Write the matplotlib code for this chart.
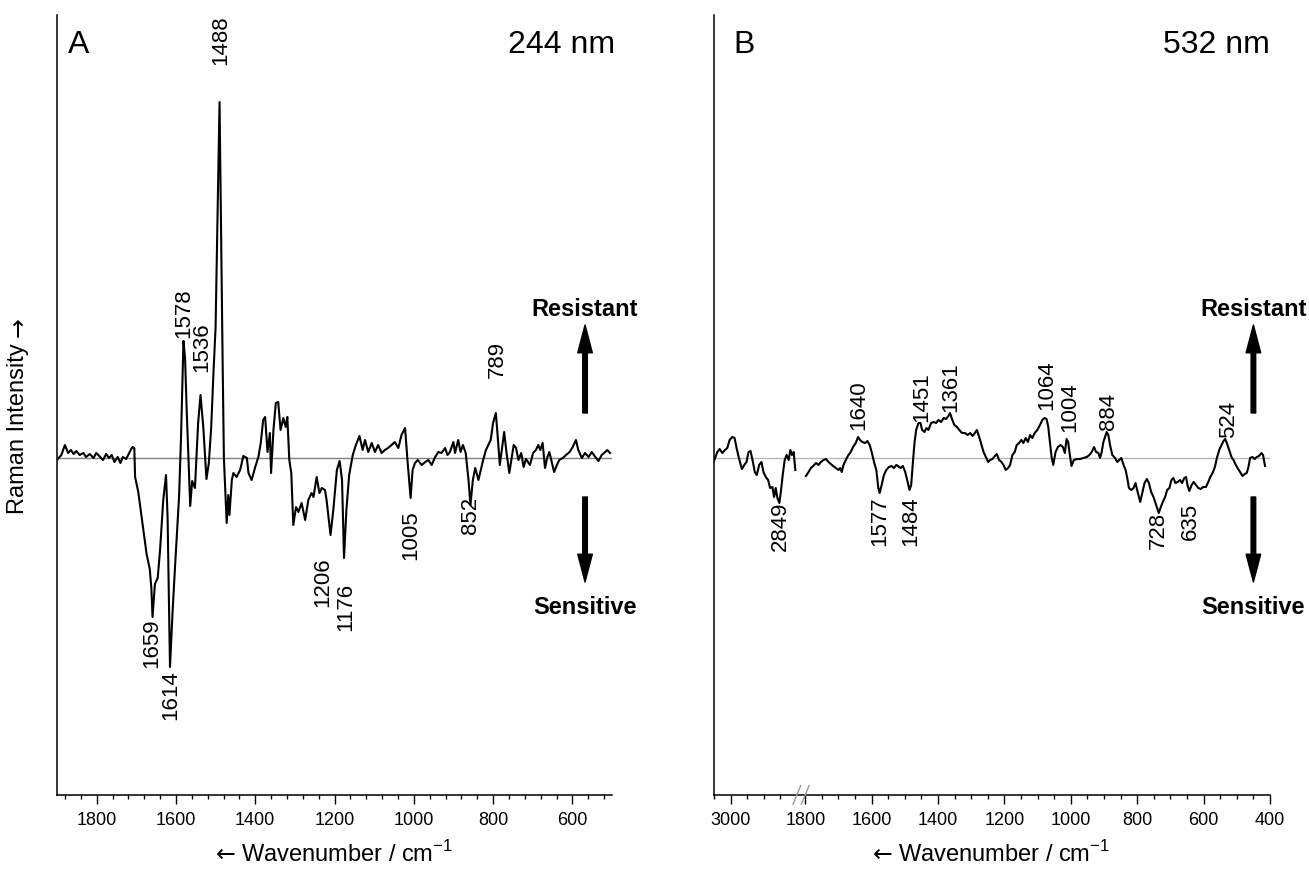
import numpy as np
import matplotlib
matplotlib.use("Agg")
import matplotlib.pyplot as plt
from matplotlib.ticker import MultipleLocator, FixedLocator, NullFormatter, FixedFormatter

plt.rcParams['font.family'] = ['Liberation Sans', 'DejaVu Sans']
plt.rcParams['mathtext.fontset'] = 'custom'
plt.rcParams['mathtext.rm'] = 'Liberation Sans'

# ---------------- Panel A (244 nm) difference spectrum ----------------
a_wn = [1898, 1889, 1880, 1872, 1865, 1858, 1851, 1843, 1833, 1827, 1817, 1808, 1801, 1791,
        1784, 1776, 1769, 1762, 1755, 1747, 1740, 1734, 1726, 1719, 1713, 1709, 1705, 1703,
        1695, 1683, 1674, 1666, 1662, 1659, 1653, 1646, 1640, 1632, 1625, 1621, 1615, 1608,
        1602, 1592, 1587, 1581, 1577, 1573, 1564, 1559, 1552, 1544, 1538, 1531, 1523, 1517,
        1511, 1505, 1500, 1495, 1490, 1486, 1482, 1479, 1472, 1468, 1465, 1459, 1455, 1447,
        1438, 1430, 1421, 1417, 1409, 1400, 1392, 1386, 1380, 1375, 1369, 1363, 1360, 1354,
        1348, 1342, 1336, 1329, 1323, 1319, 1314, 1309, 1304, 1297, 1291, 1283, 1274, 1266,
        1258, 1253, 1245, 1238, 1232, 1224, 1220, 1210, 1203, 1194, 1187, 1181, 1176, 1170,
        1163, 1154, 1146, 1137, 1129, 1123, 1115, 1106, 1098, 1090, 1081, 1073, 1065, 1056,
        1048, 1039, 1031, 1022, 1016, 1008, 1003, 997, 990, 980, 971, 963, 955, 946, 938,
        930, 921, 915, 909, 900, 896, 888, 882, 876, 869, 862, 857, 851, 845, 837, 831, 825,
        818, 812, 806, 800, 793, 789, 783, 777, 772, 766, 759, 754, 748, 742, 736, 729, 723,
        717, 707, 699, 692, 686, 681, 675, 669, 663, 658, 652, 646, 639, 633, 624, 616, 607,
        599, 591, 585, 576, 568, 559, 551, 542, 534, 526, 517, 512, 505]
a_int = [-0.01, 0.03, 0.13, 0.05, 0.08, 0.04, 0.07, 0.03, 0.05, 0.01, 0.04, 0.00, 0.05, 0.01,
         -0.02, 0.04, 0.00, 0.03, -0.04, 0.01, -0.05, 0.01, -0.01, 0.04, 0.09, 0.11, 0.10, -0.19,
         -0.34, -0.69, -0.96, -1.11, -1.30, -1.59, -1.26, -1.20, -0.92, -0.42, -0.17, -0.60, -2.09, -1.50,
         -1.07, -0.38, 0.23, 1.17, 1.00, 0.50, -0.48, -0.23, -0.30, 0.35, 0.63, 0.31, -0.21, -0.05,
         0.31, 0.88, 1.30, 2.40, 3.56, 2.20, 0.90, 0.00, -0.65, -0.37, -0.57, -0.22, -0.15, -0.19,
         -0.12, 0.02, 0.00, -0.15, -0.22, -0.09, 0.01, 0.15, 0.38, 0.41, 0.06, 0.25, -0.15, 0.28,
         0.55, 0.56, 0.28, 0.40, 0.31, 0.41, -0.02, -0.15, -0.67, -0.49, -0.54, -0.45, -0.62, -0.42,
         -0.35, -0.39, -0.19, -0.35, -0.30, -0.32, -0.42, -0.77, -0.52, -0.12, -0.03, -0.22, -1.00, -0.52,
         -0.17, 0.03, 0.13, 0.22, 0.08, 0.18, 0.06, 0.15, 0.06, 0.13, 0.05, 0.08, 0.10, 0.13,
         0.16, 0.10, 0.23, 0.30, -0.02, -0.40, -0.12, -0.05, -0.02, -0.07, -0.04, -0.02, -0.07, 0.01, 0.06,
         0.05, 0.10, 0.03, 0.06, 0.16, 0.05, 0.18, 0.06, 0.13, 0.05, -0.22, -0.47, -0.22, -0.10, -0.22, -0.12, -0.02,
         0.08, 0.13, 0.18, 0.35, 0.45, 0.25, -0.07, 0.11, 0.26, 0.05, -0.15, -0.02, 0.13, 0.10, -0.02, 0.05, -0.09,
         -0.01, -0.07, 0.05, 0.08, 0.13, 0.08, 0.15, -0.10, 0.01, 0.06, -0.04, -0.14, -0.07, -0.02, 0.00, 0.03, 0.06,
         0.11, 0.18, 0.08, 0.00, 0.05, 0.01, 0.06, 0.01, -0.03, 0.03, 0.06, 0.08, 0.05]

# ---------------- Panel B (532 nm) difference spectrum ----------------
b_hi_wn = [3050, 3040, 3033, 3025, 3017, 3010, 3003, 2995, 2988, 2982, 2975, 2966, 2959, 2952,
           2946, 2940, 2934, 2927, 2921, 2914, 2907, 2901, 2894, 2887, 2881, 2874, 2869, 2864,
           2859, 2853, 2848, 2843, 2837, 2831, 2825, 2820, 2815, 2810, 2805]
b_hi_int = [-0.03, 0.06, 0.09, 0.05, 0.08, 0.10, 0.18, 0.21, 0.20, 0.10, 0.00, -0.11, -0.07, -0.04,
            0.06, 0.07, -0.02, -0.14, -0.17, -0.07, -0.04, -0.14, -0.19, -0.22, -0.30, -0.29, -0.39, -0.30,
            -0.40, -0.45, -0.32, -0.17, -0.02, 0.03, -0.02, 0.08, 0.03, 0.06, -0.12]

b_lo_wn = [1798, 1790, 1783, 1776, 1768, 1760, 1753, 1745, 1738, 1730, 1723, 1716, 1708, 1700,
           1695, 1690, 1685, 1678, 1670, 1663, 1656, 1648, 1641, 1635, 1628, 1620, 1613, 1606,
           1600, 1593, 1586, 1580, 1576, 1570, 1563, 1556, 1548, 1540, 1533, 1526, 1521, 1513,
           1506, 1499, 1493, 1486, 1481, 1476, 1471, 1466, 1459, 1453, 1448, 1441, 1435, 1429,
           1421, 1413, 1406, 1399, 1391, 1383, 1376, 1369, 1364, 1358, 1351, 1343, 1336, 1328,
           1319, 1311, 1303, 1296, 1289, 1283, 1276, 1269, 1263, 1256, 1249, 1243, 1236, 1229,
           1223, 1216, 1209, 1203, 1196, 1189, 1183, 1176, 1169, 1163, 1156, 1149, 1143, 1136,
           1129, 1123, 1116, 1109, 1101, 1093, 1086, 1079, 1073, 1068, 1063, 1058, 1053, 1046,
           1039, 1031, 1024, 1018, 1013, 1008, 1003, 998, 991, 981, 972, 962, 952, 944, 937,
           930, 924, 917, 912, 907, 902, 897, 892, 887, 882, 875, 867, 860, 854, 848, 841, 835,
           830, 825, 818, 811, 805, 798, 791, 785, 778, 771, 765, 758, 751, 745, 740, 735, 730,
           723, 716, 710, 703, 697, 691, 685, 678, 671, 665, 658, 653, 648, 643, 636, 630, 623,
           616, 609, 601, 593, 586, 580, 573, 566, 560, 553, 546, 540, 535, 530, 523, 516, 510,
           503, 496, 490, 483, 476, 470, 465, 460, 453, 446, 440, 433, 426, 421, 415]
b_lo_int = [-0.18, -0.14, -0.10, -0.08, -0.05, -0.07, -0.04, -0.02, -0.01, -0.04, -0.06, -0.08, -0.10, -0.12,
            -0.10, -0.14, -0.07, -0.02, 0.03, 0.06, 0.11, 0.15, 0.21, 0.18, 0.16, 0.15, 0.17, 0.13,
            0.06, -0.04, -0.12, -0.30, -0.35, -0.27, -0.17, -0.12, -0.09, -0.08, -0.10, -0.07, -0.08, -0.10,
            -0.08, -0.14, -0.22, -0.32, -0.27, -0.05, 0.15, 0.28, 0.35, 0.35, 0.28, 0.26, 0.30, 0.28,
            0.35, 0.36, 0.35, 0.38, 0.36, 0.40, 0.39, 0.42, 0.45, 0.39, 0.33, 0.31, 0.28, 0.25,
            0.25, 0.23, 0.25, 0.22, 0.25, 0.28, 0.21, 0.13, 0.06, 0.01, -0.04, -0.02, -0.01, 0.02,
            0.04, -0.02, -0.04, -0.07, -0.12, -0.10, -0.07, 0.03, 0.06, 0.13, 0.15, 0.18, 0.15, 0.20,
            0.16, 0.23, 0.20, 0.25, 0.28, 0.33, 0.38, 0.40, 0.39, 0.31, 0.16, 0.01, -0.07, 0.06,
            0.11, 0.13, 0.11, 0.05, 0.19, 0.16, 0.03, -0.08, -0.02, -0.01, -0.01, 0.00, 0.01, 0.03, 0.06,
            0.11, 0.06, 0.05, 0.00, 0.06, 0.16, 0.21, 0.26, 0.23, 0.13, 0.03, 0.00, -0.04, -0.02, 0.00, -0.07, -0.12,
            -0.20, -0.30, -0.32, -0.30, -0.25, -0.35, -0.44, -0.35, -0.25, -0.21, -0.25, -0.34, -0.39, -0.45, -0.50, -0.55, -0.50,
            -0.44, -0.39, -0.32, -0.30, -0.22, -0.20, -0.25, -0.24, -0.22, -0.25, -0.20, -0.19, -0.28, -0.33, -0.27, -0.24, -0.27,
            -0.30, -0.31, -0.29, -0.29, -0.24, -0.19, -0.15, -0.09, 0.00, 0.08, 0.13, 0.17, 0.19, 0.15, 0.08, 0.01, -0.02,
            -0.07, -0.11, -0.14, -0.18, -0.16, -0.15, -0.09, 0.00, 0.01, -0.01, 0.01, 0.02, 0.05, 0.03, -0.08]

# Peak labels: (text, x position, y anchor, direction)
a_labels = [("1488", 1488, 3.93, 'up'), ("1578", 1580, 1.20, 'up'), ("1536", 1536, 0.86, 'up'),
            ("789", 789, 0.80, 'up'), ("1659", 1661, -1.60, 'down'), ("1614", 1612, -2.12, 'down'),
            ("1206", 1229, -0.99, 'down'), ("1176", 1172, -1.25, 'down'), ("1005", 1008, -0.52, 'down'),
            ("852", 858, -0.39, 'down')]
b_labels = [("2849", 2849, -0.44, 'down'), ("1640", 1640, 0.28, 'up'), ("1577", 1575, -0.38, 'down'),
            ("1484", 1481, -0.38, 'down'), ("1451", 1448, 0.36, 'up'), ("1361", 1362, 0.46, 'up'),
            ("1064", 1073, 0.48, 'up'), ("1004", 1003, 0.26, 'up'), ("884", 888, 0.28, 'up'),
            ("524", 525, 0.20, 'up'), ("728", 737, -0.54, 'down'), ("635", 640, -0.45, 'down')]

a_ticks = [1800, 1600, 1400, 1200, 1000, 800, 600]
b_ticks = [3000, 1800, 1600, 1400, 1200, 1000, 800, 600, 400]

W, H = 1309, 875
fig = plt.figure(figsize=(W / 100, H / 100), dpi=100)

top_px, bot_px = 15, 795
ylim = ((458 - bot_px) / 100, (458 - top_px) / 100)

axA = fig.add_axes([57 / W, 1 - bot_px / H, 555 / W, (bot_px - top_px) / H])
axB = fig.add_axes([714 / W, 1 - bot_px / H, 556 / W, (bot_px - top_px) / H])

LW = 1.5
LBL_FS = 16
TITLE_FS = 23
AX_FS = 17


def style(ax):
    for s in ['top', 'right']:
        ax.spines[s].set_visible(False)
    for s in ['left', 'bottom']:
        ax.spines[s].set_linewidth(1.1)
    ax.set_yticks([])
    ax.tick_params(axis='x', which='major', direction='out', length=6.5, width=1.0,
                   labelsize=13, pad=6)
    ax.tick_params(axis='x', which='minor', direction='out', length=3, width=1.0)
    ax.set_ylim(*ylim)


def peak_labels(ax, labels):
    for txt, x, y, d in labels:
        ax.text(x, y, txt, rotation=90, ha='center',
                va='bottom' if d == 'up' else 'top', fontsize=LBL_FS)


def arrows(ax, x):
    kw = dict(facecolor='black', edgecolor='black', width=3.3, headwidth=10.5,
              headlength=20, shrink=0.0)
    ax.annotate('', xy=(x, 1.33), xytext=(x, 0.45), arrowprops=kw, annotation_clip=False)
    ax.annotate('', xy=(x, -1.24), xytext=(x, -0.39), arrowprops=kw, annotation_clip=False)
    ax.text(x, 1.48, 'Resistant', ha='center', va='center', fontsize=17,
            fontweight='bold', clip_on=False)
    ax.text(x, -1.49, 'Sensitive', ha='center', va='center', fontsize=17,
            fontweight='bold', clip_on=False)


def xlabel(ax):
    t = ax.text(0.5 + 0.022, -0.075, 'Wavenumber / cm$^{\\mathregular{-1}}$', transform=ax.transAxes,
                ha='center', va='center', fontsize=AX_FS)
    ax.annotate('\u2190', xy=(0, 0.45), xycoords=t, xytext=(-4, 0), textcoords='offset points',
                ha='right', va='center', fontsize=AX_FS, family='DejaVu Sans')


# ----- Panel A -----
style(axA)
axA.set_xlim(1900, 500)
axA.axhline(0, color='#808080', lw=1.0, zorder=1)
axA.plot(a_wn, a_int, color='black', lw=LW, zorder=2)
axA.xaxis.set_major_locator(FixedLocator(a_ticks))
axA.xaxis.set_minor_locator(MultipleLocator(40))
peak_labels(axA, a_labels)
arrows(axA, 568)
axA.text(0.02, 0.962, 'A', transform=axA.transAxes, fontsize=TITLE_FS, ha='left', va='center')
axA.text(1.005, 0.962, '244 nm', transform=axA.transAxes, fontsize=TITLE_FS, ha='right', va='center')
xlabel(axA)
yl = axA.text(-0.07, 0.47, 'Raman Intensity', transform=axA.transAxes, rotation=90,
              ha='center', va='center', fontsize=AX_FS)
axA.annotate('\u2192', xy=(0.5, 1.0), xycoords=yl, xytext=(0, 4), textcoords='offset points',
             rotation=90, ha='center', va='bottom', fontsize=AX_FS, family='DejaVu Sans')

# ----- Panel B (broken x axis) -----
OFF, BRK_LO, BRK_HI = 975, 1812, 2787


def fwd(x):
    x = np.asarray(x, dtype=float)
    return np.where(x > BRK_HI, x - OFF, np.where(x > BRK_LO, BRK_LO, x))


def inv(t):
    t = np.asarray(t, dtype=float)
    return np.where(t > BRK_LO, t + OFF, t)


style(axB)
axB.set_xscale('function', functions=(fwd, inv))
axB.set_xlim(3050, 400)
axB.axhline(0, color='#b8b8b8', lw=1.0, zorder=1)
axB.plot(b_hi_wn, b_hi_int, color='black', lw=LW, zorder=2)
axB.plot(b_lo_wn, b_lo_int, color='black', lw=LW, zorder=2)
axB.xaxis.set_major_locator(FixedLocator(b_ticks))
axB.xaxis.set_major_formatter(FixedFormatter([str(t) for t in b_ticks]))
b_minor = [3050, 2950, 2900, 2850] + [v for v in range(1750, 400, -50) if v % 200 != 0]
axB.xaxis.set_minor_locator(FixedLocator(b_minor))
axB.xaxis.set_minor_formatter(NullFormatter())
for xc in (0.149, 0.164):
    axB.plot([xc - 0.007, xc + 0.007], [-0.012, 0.012], transform=axB.transAxes,
             color='#9a9a9a', lw=1.0, clip_on=False, zorder=5)
peak_labels(axB, b_labels)
arrows(axB, 450)
axB.text(0.035, 0.962, 'B', transform=axB.transAxes, fontsize=TITLE_FS, ha='left', va='center')
axB.text(1.0, 0.962, '532 nm', transform=axB.transAxes, fontsize=TITLE_FS, ha='right', va='center')
xlabel(axB)

fig.savefig('out.png', dpi=100)
